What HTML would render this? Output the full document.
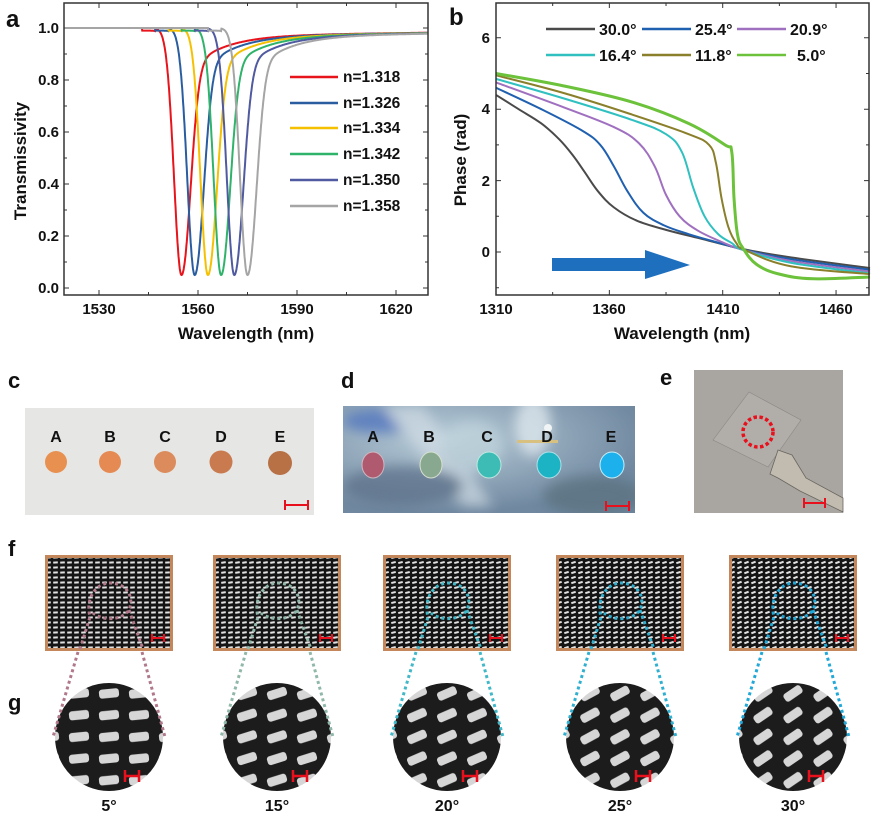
<!DOCTYPE html>
<html><head><meta charset="utf-8"><style>
html,body{margin:0;padding:0;background:#fff}
svg{display:block}
text{font-family:"Liberation Sans",sans-serif;font-weight:bold;fill:#111}
</style></head><body>
<svg id="s" width="881" height="814" viewBox="0 0 881 814" xmlns="http://www.w3.org/2000/svg">
<defs>
<radialGradient id="dg1" cx="0.35" cy="0.3" r="0.7"><stop offset="0" stop-color="#b8ccd8"/><stop offset="1" stop-color="#7088a0"/></radialGradient>
<filter id="bl"><feGaussianBlur stdDeviation="6"/></filter>
</defs>
<text x="6" y="27" font-size="24">a</text>
<text x="449" y="25" font-size="24">b</text>
<text x="8" y="388" font-size="22">c</text>
<text x="341" y="388" font-size="22">d</text>
<text x="660" y="385" font-size="22">e</text>
<text x="8" y="556" font-size="22">f</text>
<text x="8" y="710" font-size="22">g</text>

<g id="pa"></g>
<rect x="64" y="3" width="364" height="292" fill="none" stroke="#333" stroke-width="1.5"/>
<g font-size="15" text-anchor="end">
<text x="59" y="33">1.0</text><text x="59" y="85">0.8</text><text x="59" y="137">0.6</text>
<text x="59" y="189">0.4</text><text x="59" y="241">0.2</text><text x="59" y="293">0.0</text>
</g>
<g font-size="15" text-anchor="middle">
<text x="99" y="314">1530</text><text x="198" y="314">1560</text><text x="297" y="314">1590</text><text x="396" y="314">1620</text>
</g>
<text x="246" y="339" font-size="17" text-anchor="middle">Wavelength (nm)</text>
<text transform="translate(26,161) rotate(-90)" font-size="17" text-anchor="middle">Transmissivity</text>
<g font-size="15.5">
<line x1="290" y1="77" x2="338" y2="77" stroke="#e8141c" stroke-width="2.5"/><text x="343" y="82">n=1.318</text>
<line x1="290" y1="103" x2="338" y2="103" stroke="#2a5d9f" stroke-width="2.5"/><text x="343" y="108">n=1.326</text>
<line x1="290" y1="128" x2="338" y2="128" stroke="#f5c000" stroke-width="2.5"/><text x="343" y="133">n=1.334</text>
<line x1="290" y1="154" x2="338" y2="154" stroke="#2fb36a" stroke-width="2.5"/><text x="343" y="159">n=1.342</text>
<line x1="290" y1="180" x2="338" y2="180" stroke="#4f5aa0" stroke-width="2.5"/><text x="343" y="185">n=1.350</text>
<line x1="290" y1="206" x2="338" y2="206" stroke="#a5a5a5" stroke-width="2.5"/><text x="343" y="211">n=1.358</text>
</g>

<g id="pb"></g>
<rect x="496" y="3" width="373" height="292" fill="none" stroke="#333" stroke-width="1.5"/>
<polygon points="552,258 645,258 645,250 690,265 645,279 645,271 552,271" fill="#1f6fbf"/>
<g font-size="15" text-anchor="end">
<text x="490" y="43">6</text><text x="490" y="114">4</text><text x="490" y="186">2</text><text x="490" y="257">0</text>
</g>
<g font-size="15" text-anchor="middle">
<text x="496" y="314">1310</text><text x="609" y="314">1360</text><text x="723" y="314">1410</text><text x="836" y="314">1460</text>
</g>
<text x="682" y="339" font-size="17" text-anchor="middle">Wavelength (nm)</text>
<text transform="translate(466,160) rotate(-90)" font-size="17" text-anchor="middle">Phase (rad)</text>
<g font-size="16">
<line x1="546" y1="29" x2="595" y2="29" stroke="#4a4a4a" stroke-width="2.5"/><text x="599" y="35">30.0°</text>
<line x1="642" y1="29" x2="691" y2="29" stroke="#2060b0" stroke-width="2.5"/><text x="695" y="35">25.4°</text>
<line x1="737" y1="29" x2="786" y2="29" stroke="#a070c0" stroke-width="2.5"/><text x="790" y="35">20.9°</text>
<line x1="546" y1="55" x2="595" y2="55" stroke="#30c0c0" stroke-width="2.5"/><text x="599" y="61">16.4°</text>
<line x1="642" y1="55" x2="691" y2="55" stroke="#8a7f2a" stroke-width="2.5"/><text x="695" y="61">11.8°</text>
<line x1="737" y1="55" x2="786" y2="55" stroke="#6cc23a" stroke-width="2.5"/><text x="797" y="61">5.0°</text>
</g>

<rect x="25" y="408" width="289" height="107" fill="#e6e7e5"/>
<g font-size="16" text-anchor="middle">
<text x="56" y="442">A</text><text x="110" y="442">B</text><text x="165" y="442">C</text><text x="221" y="442">D</text><text x="280" y="442">E</text>
</g>
<circle cx="56" cy="462" r="11" fill="#e89050"/>
<circle cx="110" cy="462" r="11" fill="#e58a52"/>
<circle cx="165" cy="462" r="11" fill="#dc8c5c"/>
<circle cx="221" cy="462" r="11.5" fill="#c97a4e"/>
<circle cx="280" cy="463" r="12" fill="#b87045"/>
<g stroke="#e8101c" stroke-width="2"><line x1="285" y1="505" x2="308" y2="505"/><line x1="285" y1="500" x2="285" y2="510"/><line x1="308" y1="500" x2="308" y2="510"/></g>

<svg x="343" y="406" width="292" height="107" overflow="hidden">
<rect width="292" height="107" fill="url(#dg1)"/>
<g filter="url(#bl)" opacity="0.7">
<ellipse cx="40" cy="15" rx="40" ry="12" fill="#4a70c0"/>
<ellipse cx="190" cy="20" rx="18" ry="30" fill="#e8f0f4"/>
<path d="M40,0 L120,100 L150,100 L80,0Z" fill="#d0dce4"/>
<ellipse cx="60" cy="80" rx="60" ry="20" fill="#5c7088"/>
<ellipse cx="250" cy="90" rx="50" ry="20" fill="#58707c"/>
<ellipse cx="130" cy="40" rx="30" ry="25" fill="#c0d4dc"/>
</g>
<circle cx="205" cy="22" r="4" fill="#f0f4f4"/>
<rect x="174" y="34" width="41" height="3" fill="#d8c080"/>
</svg>
<g font-size="16" text-anchor="middle">
<text x="373" y="442">A</text><text x="429" y="442">B</text><text x="487" y="442">C</text><text x="547" y="442">D</text><text x="611" y="442">E</text>
</g>
<ellipse cx="373" cy="465" rx="11" ry="13" fill="#b05a70" stroke="#d0b8c0"/>
<ellipse cx="431" cy="465" rx="11" ry="13" fill="#88a890" stroke="#d8e0d0"/>
<ellipse cx="489" cy="465" rx="12" ry="13" fill="#3cbcb4" stroke="#c0e8e0"/>
<ellipse cx="549" cy="465" rx="12" ry="13" fill="#1cb4c4" stroke="#b0e0e8"/>
<ellipse cx="612" cy="465" rx="12" ry="13" fill="#1cb0ec" stroke="#c8eef8"/>
<g stroke="#e8101c" stroke-width="2"><line x1="606" y1="506" x2="629" y2="506"/><line x1="606" y1="501" x2="606" y2="511"/><line x1="629" y1="501" x2="629" y2="511"/></g>

<rect x="694" y="370" width="149" height="143" fill="#a9a6a2"/>
<polygon points="749,392 801,420 768,467 713,440" fill="#b1aeaa" stroke="#8a8784" stroke-width="0.6"/>
<circle cx="758" cy="432" r="15" fill="none" stroke="#e8101c" stroke-width="3.5" stroke-dasharray="3.5 2.5"/>
<polygon points="770,474 778,450 792,455 806,478 843,498 843,512 800,491 778,478" fill="#c2bbb0" stroke="#6a665f" stroke-width="0.8"/>
<g stroke="#e8101c" stroke-width="2"><line x1="804" y1="503" x2="825" y2="503"/><line x1="804" y1="498" x2="804" y2="508"/><line x1="825" y1="498" x2="825" y2="508"/></g>

<g id="fg"></g>
</svg>
<script>
(function(){
var NS="http://www.w3.org/2000/svg";
function el(p,n,a){var e=document.createElementNS(NS,n);for(var k in a)e.setAttribute(k,a[k]);p.appendChild(e);return e;}
var S=document.getElementById('s');
var pa=document.getElementById('pa'),pb=document.getElementById('pb');
var tk="";
for(var v=0;v<=1.0001;v+=0.1){var y=288-v*260;var L=(Math.round(v*10)%2==0)?5:3;tk+="M64,"+y+"h"+L+"M428,"+y+"h-"+L;}
for(var l=1530;l<=1620;l+=15){var x=99+(l-1530)*3.3;var L=((l-1530)%30==0)?5:3;tk+="M"+x+",295v-"+L+"M"+x+",3v"+L;}
el(pa,'path',{d:tk,stroke:'#333','stroke-width':1,fill:'none'});
tk="";
for(var v=-1;v<=6;v+=1){var y=252-v*35.7;var L=(v%2==0)?5:3;tk+="M496,"+y+"h"+L+"M869,"+y+"h-"+L;}
for(var l=1310;l<=1460;l+=25){var x=496+(l-1310)*2.267;var L=((l-1310)%50==0)?5:3;tk+="M"+x+",295v-"+L+"M"+x+",3v"+L;}
el(pb,'path',{d:tk,stroke:'#333','stroke-width':1,fill:'none'});
var cols=['#e8141c','#2a5d9f','#f5c000','#2fb36a','#4f5aa0','#a5a5a5'];
for(var i=0;i<6;i++){var l0=1555+4*i,d="";
 for(var l=1519.4;l<=1629.7;l+=0.1){var dd=l-l0;var g=dd<0?0.95*Math.exp(-Math.pow(dd/3.2,2)):0.95*Math.exp(-Math.pow(dd/3.6,2));
  var t=0;if(dd>0){t=(0.1*Math.exp(-(dd-5)/10)+0.03-0.012*Math.min(dd,75)/75)*(1-Math.exp(-Math.pow(dd/3,2)));}
  if(dd<-8&&dd>-12)g+=0.01;
  var T=1-g-t;var x=99+(l-1530)*3.3,y=288-T*260;d+=(d?"L":"M")+x.toFixed(1)+","+y.toFixed(1);}
 el(pa,'path',{d:d,stroke:cols[i],'stroke-width':2,fill:'none'});}
function px(l){return 496+(l-1310)*2.267}function py(p){return 252-p*35.7}
var C=[
['#4a4a4a',2,[[1310,4.4],[1320,4.0],[1330,3.6],[1338,3.15],[1344,2.7],[1349,2.25],[1355,1.7],[1362,1.25],[1372,0.88],[1385,0.62],[1400,0.38],[1419,0.08],[1440,-0.15],[1475,-0.45]]],
['#2060b0',2,[[1310,4.6],[1330,4.0],[1348,3.4],[1356,3.0],[1362,2.4],[1368,1.7],[1375,1.1],[1384,0.75],[1395,0.5],[1407,0.28],[1419,0.07],[1440,-0.2],[1475,-0.5]]],
['#a070c0',2,[[1310,4.75],[1340,4.05],[1362,3.5],[1373,3.05],[1380,2.4],[1385,1.6],[1391,1.0],[1399,0.6],[1410,0.27],[1419,0.06],[1440,-0.25],[1475,-0.55]]],
['#30c0c0',2,[[1310,4.85],[1340,4.3],[1370,3.7],[1385,3.3],[1392,2.8],[1397,1.8],[1402,1.0],[1408,0.5],[1414,0.25],[1419,0.06],[1440,-0.3],[1475,-0.6]]],
['#8a7f2a',2,[[1310,4.95],[1340,4.45],[1370,3.85],[1395,3.3],[1404,3.0],[1407,2.5],[1409.5,1.5],[1412.5,0.7],[1416,0.25],[1420,0.05],[1440,-0.4],[1475,-0.62]]],
['#6cc23a',3,[[1310,5.0],[1340,4.65],[1370,4.2],[1395,3.6],[1411,3.0],[1414,2.8],[1415,1.5],[1416.5,0.5],[1419,0.1],[1425,-0.35],[1435,-0.62],[1450,-0.75],[1475,-0.7]]]];
C.forEach(function(c){var P=c[2].map(function(q){return [px(q[0]),py(q[1])]});var d="M"+P[0][0]+","+P[0][1];
 for(var i=0;i<P.length-1;i++){var p0=P[Math.max(0,i-1)],p1=P[i],p2=P[i+1],p3=P[Math.min(P.length-1,i+2)];var k=0.18;
  d+="C"+(p1[0]+(p2[0]-p0[0])*k)+","+(p1[1]+(p2[1]-p0[1])*k)+" "+(p2[0]-(p3[0]-p1[0])*k)+","+(p2[1]-(p3[1]-p1[1])*k)+" "+p2[0]+","+p2[1];}
 el(pb,'path',{d:d,stroke:c[0],'stroke-width':c[1],fill:'none'});});
var fg=document.getElementById('fg');var defs=S.querySelector('defs');
var X=[45,213,383,556,729],A=[5,15,20,25,30],DC=['#b07888','#90b8a8','#40b8c8','#30b0d0','#20a8d8'];
for(var i=0;i<5;i++){var x0=X[i],a=A[i],cx=x0+64;
 var p=el(defs,'pattern',{id:'pt'+i,patternUnits:'userSpaceOnUse',width:7,height:5,x:x0,y:555});
 el(p,'rect',{width:7,height:5,fill:'#151515'});
 el(p,'rect',{x:1.2,y:1.5,width:4.6,height:2,fill:'#e2e2e2',transform:'rotate('+(-a*0.7)+' 3.5 2.5)'});
 el(fg,'rect',{x:x0+1.5,y:556.5,width:125,height:93,fill:'url(#pt'+i+')',stroke:'#c4875c','stroke-width':3});
 var q=el(defs,'pattern',{id:'pc'+i,patternUnits:'userSpaceOnUse',width:30,height:21.7,x:cx-15,y:737-11});
 el(q,'rect',{width:30,height:21.7,fill:'#1c1c1c'});
 el(q,'rect',{x:5,y:6.35,width:20,height:9,rx:3,fill:'#d6d6d6',transform:'rotate('+(-a*1.15)+' 15 10.85)'});
 var cp=el(defs,'clipPath',{id:'cc'+i});el(cp,'circle',{cx:cx,cy:737,r:54});
 el(fg,'rect',{x:cx-54,y:683,width:108,height:108,fill:'url(#pc'+i+')','clip-path':'url(#cc'+i+')'});
 var dash={stroke:DC[i],'stroke-width':3,fill:'none','stroke-dasharray':'3 3'};
 var r=function(xx,yy){return (x0+xx)+","+(555+yy)};
 var o=Object.assign({},dash);o.d="M"+r(35,94)+" L"+r(45,62)+" C"+r(40,42)+" "+r(52,28)+" "+r(65,28)+" C"+r(80,28)+" "+r(90,40)+" "+r(84,55)+" C"+r(76,66)+" "+r(58,66)+" "+r(48,58)+" M"+r(84,55)+" L"+r(98,94);el(fg,'path',o);
 o=Object.assign({},dash);o.d="M"+(x0+33)+",652 L"+(cx-56)+",737 M"+(x0+97)+",652 L"+(cx+56)+",737";el(fg,'path',o);
 var sb="M"+(x0+107)+",638h12M"+(x0+107)+",634v8M"+(x0+119)+",634v8";el(fg,'path',{d:sb,stroke:'#e8101c','stroke-width':2});
 sb="M"+(cx+16)+",776h14M"+(cx+16)+",770v12M"+(cx+30)+",770v12";el(fg,'path',{d:sb,stroke:'#e8101c','stroke-width':2.5});
 var t=el(fg,'text',{x:cx,y:811,'font-size':16,'text-anchor':'middle'});t.textContent=a+"°";}
})();
</script>
</body></html>
